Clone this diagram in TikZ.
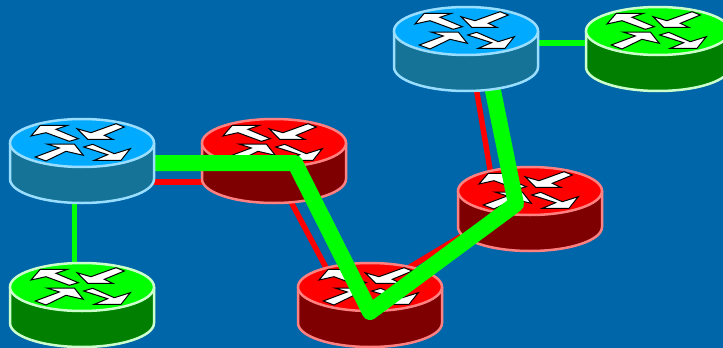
\documentclass[tikz,border=0pt]{standalone}
\usetikzlibrary{calc}
\definecolor{seabg}{RGB}{0,102,170}
\definecolor{bluetop}{RGB}{0,170,255}
\definecolor{blueside}{RGB}{20,115,150}
\definecolor{blueedge}{RGB}{153,221,255}
\definecolor{redtop}{RGB}{255,0,0}
\definecolor{redside}{RGB}{127,0,0}
\definecolor{rededge}{RGB}{255,128,128}
\definecolor{greentop}{RGB}{0,255,0}
\definecolor{greenside}{RGB}{0,127,0}
\definecolor{greenedge}{RGB}{204,255,204}

\begin{document}
\begin{tikzpicture}[
  x=1pt, y=-1pt,
  thinlink/.style={line width=5.5pt},
  tunnel/.style={line width=16pt, draw=greentop, line join=round, line cap=round},
  arrowhd/.style={fill=white, draw=black, line width=1pt, line join=miter},
  router/.pic={
    \draw[draw=\rtedge, line width=2.5pt, fill=\rtside] (-72,0) -- (-72,36) arc[start angle=180, end angle=0, x radius=72, y radius=24] -- (72,0);
    \draw[draw=\rtedge, line width=2.5pt, fill=\rttop] (0,0) circle[x radius=72, y radius=24];
    % four arrows on the lid
    \draw[arrowhd] (-51,-7) -- (-41.7,-17.7) -- (-14.3,-17.7) -- (-26,-13.7) -- (-3.7,-4.3) -- (-12.7,-1.7) -- (-36,-10.3) -- cycle;
    \draw[arrowhd] (34,-19.3) -- (42.3,-16) -- (22.3,-7.7) -- (30.7,-3.7) -- (5.7,-3.7) -- (-5,-14.3) -- (9,-10.3) -- cycle;
    \draw[arrowhd] (-46.7,14) -- (-22.7,5) -- (-35,1) -- (-7.7,1) -- (1.3,12.3) -- (-16,8.3) -- (-36,18) -- cycle;
    \draw[arrowhd] (1.7,4) -- (10.7,1.3) -- (32.3,10.7) -- (48.3,5.7) -- (39,17.3) -- (12.3,17.3) -- (25.7,11.7) -- cycle;
  }
]
\useasboundingbox (0,0) rectangle (723,348);
\fill[seabg] (0,0) rectangle (723,348);

\coordinate (blueA) at (82,143);
\coordinate (blueB) at (466,31);
\coordinate (greenA) at (82,287);
\coordinate (greenB) at (658,31);
\coordinate (redA) at (274,143);
\coordinate (redB) at (370,287);
\coordinate (redC) at (530,191);

% ---------- thin links ----------
\draw[thinlink, draw=greentop] ($(blueA)+(-7.5,40)$) -- ($(greenA)+(-7.5,-20)$);
\draw[thinlink, draw=greentop] ($(blueB)+(50,12)$) -- ($(greenB)+(-50,12)$);
\draw[thinlink, draw=redtop] ($(blueA)+(50,39)$) -- ($(redA)+(-50,39)$);
\draw[thinlink, draw=redtop] ($(redA)+(7,40)$) -- ($(redB)+(-39,-10)$);
\draw[thinlink, draw=redtop] ($(redB)+(30,-14)$) -- ($(redC)+(-50,34)$);
\draw[thinlink, draw=redtop] ($(redC)+(-38,-10)$) -- ($(blueB)+(9,50)$);

% ---------- red routers ----------
\foreach \rtname in {redA,redB,redC} {
  \def\rtedge{rededge}\def\rtside{redside}\def\rttop{redtop}
  \pic at (\rtname) {router};
}

% ---------- thick tunnel ----------
\draw[tunnel] ($(blueA)+(0,20)$) -- ($(redA)+(21,20)$) -- ($(redB)+(0,25)$) -- ($(redC)+(-14,13)$) -- ($(blueB)+(23,40)$);

% ---------- blue and green routers ----------
\foreach \rtname in {blueA,blueB} {
  \def\rtedge{blueedge}\def\rtside{blueside}\def\rttop{bluetop}
  \pic at (\rtname) {router};
}
\foreach \rtname in {greenA,greenB} {
  \def\rtedge{greenedge}\def\rtside{greenside}\def\rttop{greentop}
  \pic at (\rtname) {router};
}
\end{tikzpicture}
\end{document}
